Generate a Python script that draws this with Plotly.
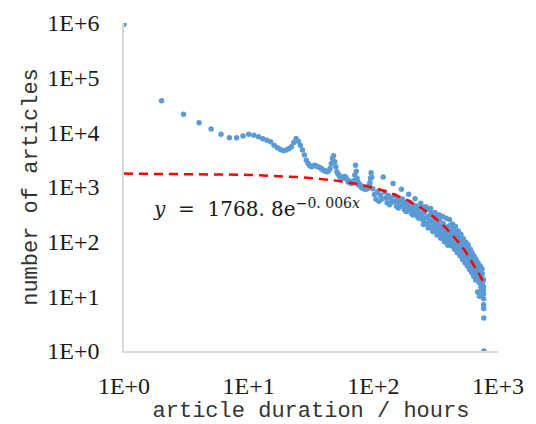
import numpy as np
import plotly.graph_objects as go

# Article counts by duration (hours). Hours 1-97 one by one.
hours_early = list(range(1, 98))
counts_early = [
    950000, 37700, 21500, 14900, 11450, 9270, 7940, 7940, 8530, 9200,
    8890, 8300, 7620, 7200, 6700, 5830, 5210, 4870, 4590, 4730,
    5000, 5450, 6500, 7730, 6900, 5830, 4730, 3830, 3100, 2700,
    2440, 2340, 2440, 2510, 2400, 2340, 2280, 2200, 2100, 2020,
    1950, 1920, 1900, 2000, 2190, 2700, 3330, 3720, 2890, 2340,
    1900, 1750, 1650, 1520, 1470, 1440, 1480, 1540, 1560, 1500,
    1420, 1350, 1240, 1270, 1180, 1240, 1160, 1220, 1240, 1320,
    1650, 2510, 1950, 1450, 1250, 1100, 1150, 1060, 1080, 990,
    1030, 950, 995, 930, 975, 910, 960, 920, 985, 940,
    1020, 980, 1100, 1200, 1450, 1820, 1500,
]

# Hours 99-759, every third hour (eight readings per day)
hours_late = list(range(99, 760, 3))
counts_late = [
    932, 728, 594, 806, 548, 709, 606,                 # day 4
    1531, 808, 630, 515, 698, 474, 614, 525,           # day 5
    1155, 699, 546, 446, 605, 411, 532, 455,           # day 6
    912, 605, 473, 386, 524, 356, 460, 394,            # day 7
    737, 524, 409, 334, 453, 308, 398, 341,            # day 8
    609, 454, 354, 289, 393, 267, 345, 295,            # day 9
    504, 441, 321, 251, 205, 341, 267, 212,            # day 10
    436, 382, 278, 217, 177, 295, 231, 184,            # day 11
    405, 331, 241, 188, 154, 256, 200, 159,            # day 12
    343, 287, 208, 163, 133, 221, 173, 138,            # day 13
    311, 248, 180, 141, 115, 192, 150, 119,            # day 14
    288, 215, 156, 122, 100, 166, 130, 103,            # day 15
    268, 186, 135, 106, 86, 144, 112, 90,              # day 16
    254, 198, 132, 100, 160, 84, 199, 107,             # day 17
    210, 171, 114, 87, 138, 73, 172, 93,               # day 18
    190, 148, 99, 75, 120, 63, 149, 80,                # day 19
    157, 128, 85, 65, 104, 55, 129, 70,                # day 20
    136, 111, 74, 56, 90, 47, 112, 60,                 # day 21
    113, 96, 64, 49, 78, 41, 97, 52,                   # day 22
    98, 83, 55, 42, 67, 36, 84, 45,                    # day 23
    88, 72, 48, 37, 58, 31, 72, 39,                    # day 24
    73, 62, 42, 32, 50, 27, 63, 34,                    # day 25
    59, 54, 36, 27, 44, 23, 54, 29,                    # day 26
    51, 47, 31, 24, 38, 20, 47, 25,                    # day 27
    41, 41, 27, 21, 33, 12, 41, 22,                    # day 28
    38, 35, 23, 18, 28, 10, 35, 19,                    # day 29
    36, 30, 20, 15, 25, 13, 31, 16,                    # day 30
    32, 26, 18, 13, 21, 11,                            # day 31
]

# Last hours, where the count falls off
hours_end = [762, 763, 764, 765, 766, 767, 768, 769, 770]
counts_end = [20, 15, 13, 11, 9, 7, 6, 4, 1]

# Exponential trendline y = a * e^(-b x)
fit_a = 1768.8
fit_b = 0.006

x_all = hours_early + hours_late + hours_end
y_all = counts_early + counts_late + counts_end

x_fit = np.linspace(min(x_all), max(x_all), 600)
y_fit = fit_a * np.exp(-fit_b * x_fit)

tick_vals_x = [1, 10, 100, 1000]
tick_text_x = ["1E+0", "1E+1", "1E+2", "1E+3"]
tick_vals_y = [1, 10, 100, 1000, 10000, 100000, 1000000]
tick_text_y = ["1E+0", "1E+1", "1E+2", "1E+3", "1E+4", "1E+5", "1E+6"]

fig = go.Figure()
fig.add_trace(go.Scatter(
    x=x_all, y=y_all, mode="markers",
    marker=dict(color="#5B9BD5", size=5.5, line=dict(width=0)),
    hoverinfo="skip",
))
fig.add_trace(go.Scatter(
    x=x_fit, y=y_fit, mode="lines",
    line=dict(color="#FF0000", width=2.5, dash="9px,6px"),
    hoverinfo="skip",
))

tick_font = dict(family="Liberation Serif", size=24, color="#1a1a1a")
title_font = dict(family="Liberation Mono", size=22, color="#333333")

fig.update_layout(
    width=536, height=424,
    margin=dict(l=124, r=38, t=23, b=73),
    paper_bgcolor="white", plot_bgcolor="white",
    showlegend=False,
    xaxis=dict(
        type="log", range=[0, 3], automargin=False,
        tickvals=tick_vals_x, ticktext=tick_text_x,
        showgrid=False, zeroline=False,
        showline=True, linecolor="#d9d9d9", linewidth=1.5,
        ticks="outside", ticklen=12, tickcolor="rgba(0,0,0,0)",
        tickfont=tick_font,
        title=dict(text="article duration / hours", font=title_font, standoff=17),
    ),
    yaxis=dict(
        type="log", range=[0, 6], automargin=False,
        tickvals=tick_vals_y, ticktext=tick_text_y,
        showgrid=False, zeroline=False,
        showline=True, linecolor="#d9d9d9", linewidth=1.5,
        ticks="outside", ticklen=18, tickcolor="rgba(0,0,0,0)",
        tickfont=tick_font,
        title=dict(text="number of articles", font=title_font, standoff=4),
    ),
    annotations=[dict(
        xref="paper", yref="paper", x=0.072, y=0.435,
        xanchor="left", yanchor="middle", showarrow=False,
        text="<i>y</i>  =  1768. 8e<sup>−0. 006<i>x</i></sup>",
        font=dict(family="DejaVu Serif", size=20, color="#1a1a1a"),
    )],
)

fig.write_html("out.html", config={"displayModeBar": False})
